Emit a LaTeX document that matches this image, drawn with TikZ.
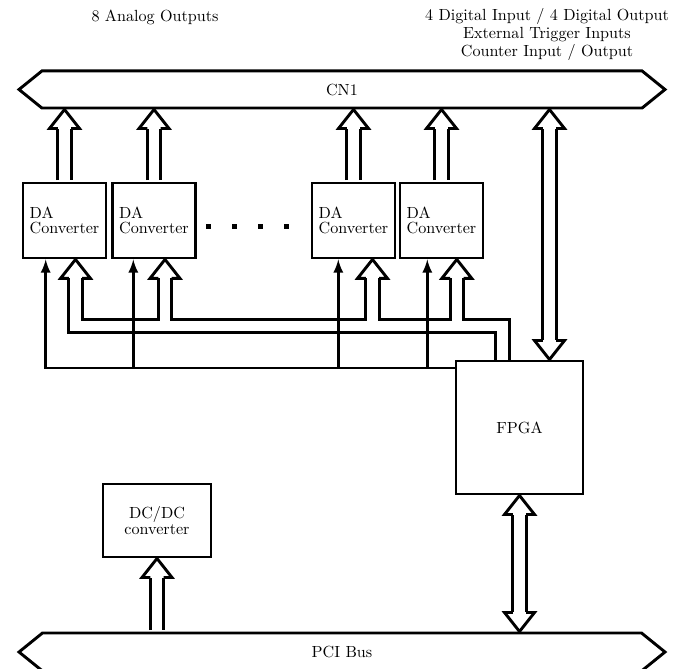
\documentclass[tikz,border=0pt]{standalone}
\usepackage{tikz}
\usetikzlibrary{calc,shapes.symbols}

\begin{document}
\begin{tikzpicture}[>=latex,line width=1.8pt,x=0.62pt,y=0.62pt,
  dabox/.style={draw,minimum width=51.5pt,minimum height=46.5pt,align=left,
    font=\fontsize{10pt}{9.5pt}\selectfont},
  bus/.style={draw,signal,signal to=west and east,signal pointer angle=78,
    minimum width=400.5pt,minimum height=23pt},
  tube/.style={double,double distance=6.5pt},
  hhead/.pic={\draw (-6.7,-19) -- (-15,-19) -- (0,0) -- (15,-19) -- (6.7,-19);}]
\fill[white] (0,0) rectangle (684,668);
\useasboundingbox (0,0) rectangle (684,668);

\node[bus] (cn1) at (342,578.5) {CN1};
\node[bus,minimum height=23.6pt] (pci) at (342,16) {PCI Bus};
\node[dabox] (a1) at (64.5,447.5) {DA\\Converter};
\node[dabox] (a2) at (154,447.5) {DA\\Converter};
\node[dabox] (a3) at (353.5,447.5) {DA\\Converter};
\node[dabox] (a4) at (441.5,447.5) {DA\\Converter};
\node[draw,minimum width=78.7pt,minimum height=82.5pt] (fpga) at (519.5,240.5) {FPGA};
\node[draw,minimum width=67pt,minimum height=45.3pt,align=center,
  font=\fontsize{10pt}{10pt}\selectfont] (dcdc) at (157,147.5) {DC/DC\\converter};
\node (ana) at (155,651) {8 Analog Outputs};
\node[align=center,font=\fontsize{10pt}{11pt}\selectfont] (dio) at (547,633.5)
  {4 Digital Input / 4 Digital Output\\External Trigger Inputs\\Counter Input / Output};

\foreach \x in {208,234,260,286}
  \fill (\x-2.5,438.5) rectangle ++(5,5);

% analog outputs up to CN1
\foreach \n in {a1,a2,a3,a4}{
  \draw[tube,shorten <=0.9pt,shorten >=11.8pt] (\n.north) -- (\n.north |- cn1.south);
  \pic at (\n.north |- cn1.south) {hhead};
}

% data lanes from FPGA
\coordinate (h1) at (75.5,342);
\coordinate (h2) at (165,342);
\coordinate (h3) at (372.5,342);
\coordinate (h4) at (456.8,342);
\coordinate (hf) at (502.5,342);
\draw[tube,shorten <=0.9pt] (hf |- fpga.north) -- (hf) -- (h1) -- ($(h1 |- a1.south)-(0,19)$)
  (h2) -- ($(h2 |- a2.south)-(0,19)$)
  (h3) -- ($(h3 |- a3.south)-(0,19)$)
  (h4) -- ($(h4 |- a4.south)-(0,19)$);
\foreach \n in {1,...,4}
  \pic at (h\n |- a\n.south) {hhead};

% control lines from FPGA
\coordinate (t1) at (45.7,300);
\coordinate (t2) at (133.3,300);
\coordinate (t3) at (338.3,300);
\coordinate (t4) at (427.3,300);
\draw[->] (t1 -| fpga.west) -- (t1) -- (t1 |- a1.south);
\draw[->] (t2) -- (t2 |- a2.south);
\draw[->] (t3) -- (t3 |- a3.south);
\draw[->] (t4) -- (t4 |- a4.south);

% digital I/O
\coordinate (io) at (549.5,400);
\draw[tube,shorten <=11.8pt,shorten >=11.8pt] (io |- cn1.south) -- (io |- fpga.north);
\pic at (io |- cn1.south) {hhead};
\pic[rotate=180] at (io |- fpga.north) {hhead};

% PCI side
\draw[tube,shorten <=11.8pt,shorten >=11.8pt] (fpga.south) -- (fpga.south |- pci.north);
\pic at (fpga.south) {hhead};
\pic[rotate=180] at (fpga.south |- pci.north) {hhead};
\draw[tube,shorten <=0.9pt,shorten >=11.8pt] (dcdc.south |- pci.north) -- (dcdc.south);
\pic at (dcdc.south) {hhead};
\end{tikzpicture}
\end{document}
